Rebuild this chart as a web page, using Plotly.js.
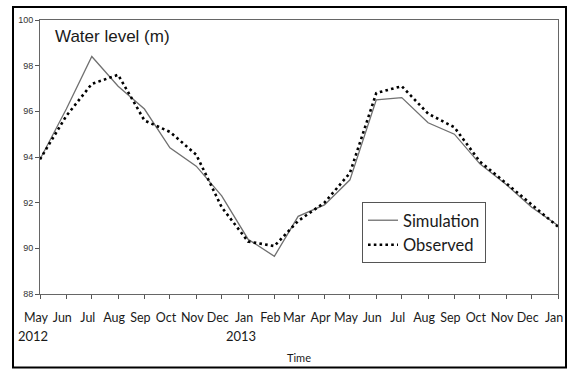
<!DOCTYPE html>
<html>
<head>
<meta charset="utf-8">
<script src="https://cdn.plot.ly/plotly-3.0.1.min.js"></script>
<style>
  html, body { margin: 0; padding: 0; background: #fff; }
  #chart { width: 572px; height: 369px; }
</style>
</head>
<body>
<div id="chart"></div>
<script>
// Monthly dates, May 2012 - Jan 2014
var dates = ['2012-05-01','2012-06-01','2012-07-01','2012-08-01','2012-09-01','2012-10-01','2012-11-01','2012-12-01',
             '2013-01-01','2013-02-01','2013-03-01','2013-04-01','2013-05-01','2013-06-01','2013-07-01','2013-08-01',
             '2013-09-01','2013-10-01','2013-11-01','2013-12-01','2014-01-01'];
var monthLabels = ['May','Jun','Jul','Aug','Sep','Oct','Nov','Dec','Jan','Feb','Mar','Apr','May','Jun','Jul','Aug',
                   'Sep','Oct','Nov','Dec','Jan'];
var yearLabels = ['2012','2013'];
var yearDates = ['2012-05-01','2013-01-01'];

var simulation = [93.9, 96.1, 98.4, 97.1, 96.1, 94.4, 93.6, 92.3, 90.4, 89.65, 91.4, 91.9, 93.0, 96.5, 96.6, 95.5,
                  95.0, 93.7, 92.8, 91.8, 91.0];
var observed   = [93.9, 95.8, 97.2, 97.6, 95.6, 95.1, 94.1, 91.8, 90.3, 90.1, 91.2, 92.0, 93.3, 96.8, 97.1, 95.9,
                   95.3, 93.8, 92.85, 91.9, 90.95];

var yTicks = [88, 90, 92, 94, 96, 98, 100];

var traces = [
  { x: dates, y: simulation, name: 'Simulation', type: 'scatter', mode: 'lines',
    line: { color: '#707070', width: 1.3 } },
  { x: dates, y: observed, name: 'Observed', type: 'scatter', mode: 'lines',
    line: { color: '#000000', width: 2.6, dash: '2.6px,3.2px' } }
];

var annotations = [
  { text: 'Water level (m)', xref: 'paper', yref: 'paper', x: (53 - 40) / 518, y: (294 - 37) / 274,
    xanchor: 'left', yanchor: 'middle', showarrow: false,
    font: { family: 'Liberation Sans, Arial, sans-serif', size: 17, color: '#1a1a1a' } }
];
for (var i = 0; i < yearLabels.length; i++) {
  annotations.push({ text: yearLabels[i], x: yearDates[i], xref: 'x', yref: 'paper', y: (294 - 336) / 274,
    xanchor: 'center', yanchor: 'middle', xshift: -7, showarrow: false,
    font: { family: 'Lato, sans-serif', size: 13, color: '#1a1a1a' } });
}

var layout = {
  width: 572, height: 369,
  margin: { l: 40, r: 14, t: 20, b: 75 },
  paper_bgcolor: '#ffffff', plot_bgcolor: '#ffffff',
  showlegend: true,
  legend: {
    x: (362 - 40) / 518, y: (294 - 202) / 274, xanchor: 'left', yanchor: 'top',
    bordercolor: '#555', borderwidth: 1, bgcolor: '#ffffff',
    font: { family: 'Lato, sans-serif', size: 16.5, color: '#1a1a1a' }
  },
  xaxis: {
    type: 'date',
    range: [dates[0], dates[dates.length - 1]],
    tickmode: 'array', tickvals: dates, ticktext: monthLabels, tickangle: 0,
    ticks: 'outside', ticklen: 4, tickcolor: '#555',
    ticklabelstandoff: 8, ticklabelshift: -4,
    tickfont: { family: 'Lato, sans-serif', size: 12.5, color: '#1a1a1a' },
    showgrid: false, zeroline: false,
    showline: true, linecolor: '#666', linewidth: 1, mirror: true,
    title: { text: 'Time', standoff: 30, font: { family: 'Lato, sans-serif', size: 11, color: '#1a1a1a' } }
  },
  yaxis: {
    range: [88, 100],
    tickmode: 'array', tickvals: yTicks,
    ticks: 'outside', ticklen: 4, tickcolor: '#555',
    tickfont: { family: 'Liberation Sans, Arial, sans-serif', size: 9, color: '#333' },
    showgrid: false, zeroline: false,
    showline: true, linecolor: '#666', linewidth: 1, mirror: true
  },
  annotations: annotations,
  shapes: [
    { type: 'rect', xref: 'paper', yref: 'paper',
      x0: (13 - 40) / 518, x1: (566 - 40) / 518, y0: (294 - 367.5) / 274, y1: (294 - 7) / 274,
      line: { color: '#000', width: 2 }, fillcolor: 'rgba(0,0,0,0)', layer: 'above' }
  ]
};

Plotly.newPlot('chart', traces, layout, { staticPlot: true, displayModeBar: false });
</script>
</body>
</html>
